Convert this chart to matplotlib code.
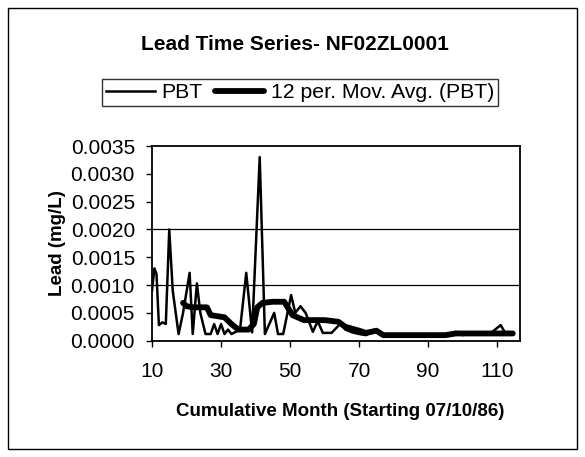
import matplotlib
matplotlib.use("Agg")
import matplotlib.pyplot as plt
from matplotlib.patches import Rectangle

plt.rcParams['font.family'] = ['Liberation Sans', 'DejaVu Sans']

title = "Lead Time Series- NF02ZL0001"
xlabel = "Cumulative Month (Starting 07/10/86)"
ylabel = "Lead (mg/L)"
series_names = ["PBT", "12 per. Mov. Avg. (PBT)"]

pbt_month = [10, 10.7, 11.3, 12, 13, 14, 15, 16, 17.7, 19, 20.9, 21.8, 23, 24, 25.5,
             27, 28, 29, 30, 31, 32, 33, 34, 35.5, 37.3, 39, 41.2, 42.7, 45.4, 46.5,
             48, 50.3, 51.5, 53, 54.5, 56.6, 58, 59.5, 62, 64.5, 66, 68, 70, 72, 75,
             77, 80, 85, 90, 96, 98, 100, 102, 104, 108, 111, 112.5, 114.5]
pbt_value = [0.0009, 0.0013, 0.0012, 0.00028, 0.00033, 0.0003, 0.0020, 0.0009, 0.00012,
             0.0005, 0.00122, 0.00012, 0.00103, 0.0005, 0.00012,
             0.00012, 0.0003, 0.00012, 0.0003, 0.00012, 0.0002, 0.00012, 0.00015, 0.0002,
             0.00122, 0.00015, 0.0033, 0.00012, 0.0005, 0.00012,
             0.00012, 0.00082, 0.0005, 0.00062, 0.0005, 0.00016, 0.00035, 0.00014, 0.00014,
             0.0003, 0.0002, 0.00015, 0.00012, 0.0001, 0.0002,
             0.0001, 0.0001, 0.0001, 0.0001, 0.0001, 0.00016, 0.0001, 0.00014, 0.00013,
             0.00013, 0.00028, 0.00012, 0.00013]

ma_month = [19, 20, 22, 25.9, 27, 31, 33, 35, 38, 39.5, 40.5, 42, 45, 48.3, 50.7,
            54, 60, 64, 66, 70, 72, 75, 77, 95, 98, 104, 110, 114.5]
ma_value = [0.00068, 0.00062, 0.0006, 0.0006, 0.00046, 0.00042, 0.0003, 0.0002, 0.0002,
            0.0003, 0.0006, 0.00068, 0.0007, 0.0007, 0.00046,
            0.00037, 0.00037, 0.00034, 0.00025, 0.00018, 0.00014, 0.00018, 0.0001, 0.0001,
            0.00013, 0.00013, 0.00013, 0.00013]

yticks = [0.0, 0.0005, 0.0010, 0.0015, 0.0020, 0.0025, 0.0030, 0.0035]
xticks = [10, 30, 50, 70, 90, 110]

W, H = 585, 457
fig = plt.figure(figsize=(W / 100, H / 100), dpi=100)
fig.patches.append(Rectangle((8 / W, 8 / H), 569 / W, 441 / H, transform=fig.transFigure,
                             fill=False, edgecolor='black', linewidth=1.0))

ax = fig.add_axes([152 / W, 1 - 340.7 / H, (520 - 152) / W, (340.7 - 146) / H])

for g in [0.0010, 0.0020]:
    ax.axhline(g, color='black', linewidth=0.9, zorder=1)

l1, = ax.plot(pbt_month, pbt_value, color='black', linewidth=1.8, zorder=3,
              solid_joinstyle='round')
l2, = ax.plot(ma_month, ma_value, color='black', linewidth=4.2, zorder=2,
              solid_joinstyle='round', solid_capstyle='round')

ax.set_xlim(10, 116.6)
ax.set_ylim(0, 0.0035)
ax.set_yticks(yticks)
ax.set_yticklabels([f"{v:.4f}" for v in yticks])
ax.set_xticks(xticks)
ax.set_xticklabels([str(v) for v in xticks])
ax.tick_params(axis='both', labelsize=15, direction='out', length=4.3, width=1, colors='black')
ax.tick_params(axis='x', pad=11)
ax.tick_params(axis='y', pad=8)

for s in ['top', 'right', 'left', 'bottom']:
    ax.spines[s].set_linestyle((0, (1.5, 1)))
    ax.spines[s].set_linewidth(1.3)

fig.text(340 / W, 1 - 412 / H, xlabel, fontsize=13.5, fontweight='bold', ha='center', va='center')
fig.text(57 / W, 1 - 243 / H, ylabel, fontsize=13.5, fontweight='bold', ha='center', va='center',
         rotation=90)
fig.text(295 / W, 1 - 45 / H, title, fontsize=15, fontweight='bold', ha='center', va='center')

leg = fig.legend([l1, l2], series_names, loc='center', bbox_to_anchor=(300 / W, 1 - 92.5 / H),
                 ncol=2, frameon=True, fancybox=False, fontsize=15.3, handlelength=2.3,
                 handletextpad=0.3, columnspacing=0.6, borderpad=0.2, edgecolor='black')
leg.get_frame().set_linewidth(1.0)

fig.savefig("out.png", dpi=100)
